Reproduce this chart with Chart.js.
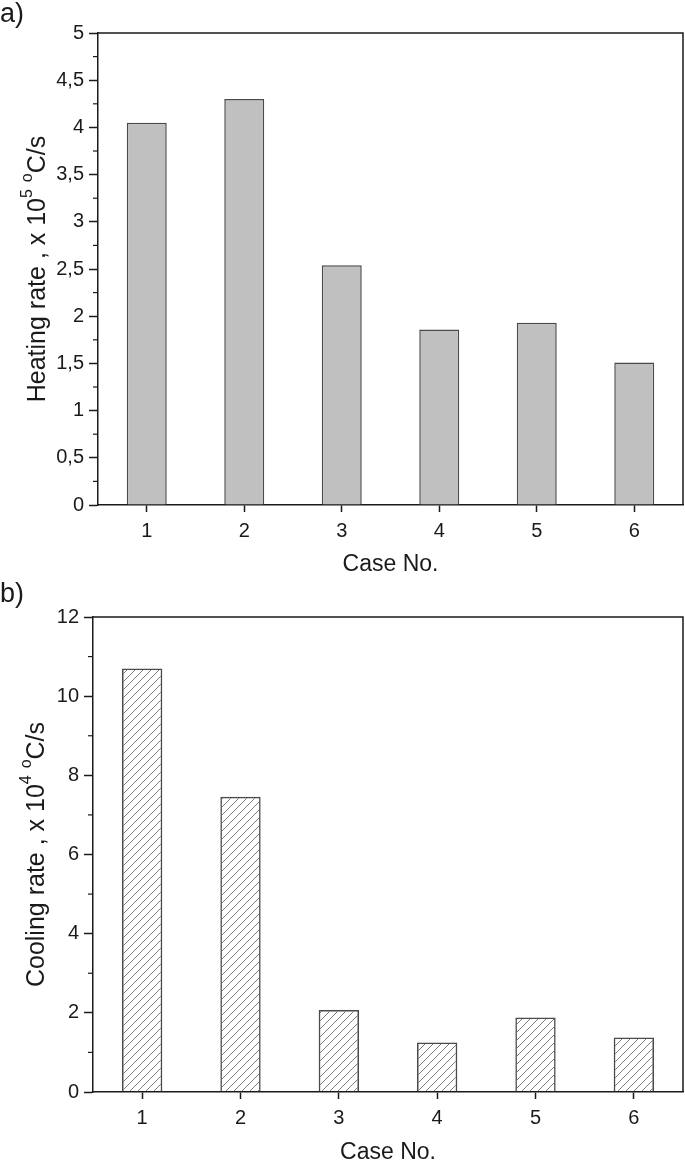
<!DOCTYPE html>
<html>
<head>
<meta charset="utf-8">
<script src="https://cdn.jsdelivr.net/npm/chart.js@4/dist/chart.umd.min.js"></script>
<style>
  html, body { margin: 0; padding: 0; background: #fff; }
  .panel { position: absolute; left: 0; width: 685px; height: 581px; }
</style>
</head>
<body>
<div class="panel" style="top:0"><canvas id="heat" width="685" height="581"></canvas></div>
<div class="panel" style="top:581px"><canvas id="cool" width="685" height="581"></canvas></div>
<script>
const cases = ["1", "2", "3", "4", "5", "6"];
const heatingRate = [4.05, 4.30, 2.54, 1.86, 1.93, 1.51];
const coolingRate = [10.7, 7.46, 2.07, 1.25, 1.88, 1.38];
const heatTicks = { max: 5, step: 0.5, minor: 0.25 };
const coolTicks = { max: 12, step: 2, minor: 1 };

const FONT = "'Liberation Sans', Arial, sans-serif";
const ink = "#1a1a1a";

// diagonal hatch for the cooling bars
function hatch() {
  const c = document.createElement("canvas");
  c.width = 8; c.height = 8;
  const g = c.getContext("2d");
  g.strokeStyle = "#707070";
  g.lineWidth = 0.9;
  g.beginPath();
  g.moveTo(0, 8); g.lineTo(8, 0);
  g.moveTo(-1, 1); g.lineTo(1, -1);
  g.moveTo(7, 9); g.lineTo(9, 7);
  g.stroke();
  return g.createPattern(c, "repeat");
}

// frame, minor ticks, titles and panel letter
const decor = {
  id: "decor",
  afterDraw(chart, args, o) {
    const ctx = chart.ctx;
    const a = chart.chartArea;
    const y = chart.scales.y;
    ctx.save();
    ctx.strokeStyle = ink;
    ctx.lineWidth = 1.5;
    ctx.beginPath();
    ctx.moveTo(a.left, a.top); ctx.lineTo(a.right, a.top); ctx.lineTo(a.right, a.bottom);
    ctx.stroke();

    ctx.lineWidth = 1.2;
    for (let v = o.minor; v < o.max; v += o.step) {
      const py = y.getPixelForValue(v);
      ctx.beginPath();
      ctx.moveTo(a.left - 5, py); ctx.lineTo(a.left, py);
      ctx.stroke();
    }

    ctx.fillStyle = ink;
    ctx.font = "27px " + FONT;
    ctx.textBaseline = "middle";
    ctx.textAlign = "left";
    ctx.fillText(o.letter, 0, o.letterY);

    ctx.font = "23px " + FONT;
    ctx.textAlign = "center";
    ctx.fillText("Case No.", (a.left + a.right) / 2, o.xTitleY);

    // rotated y title with superscripts
    const big = "25px " + FONT, small = "16px " + FONT;
    const parts = [
      [o.yTitle, big, 0], [o.power, small, -10], [" ", big, 0], ["o", small, -10], ["C/s", big, 0]
    ];
    let w = 0;
    parts.forEach(p => { ctx.font = p[1]; w += ctx.measureText(p[0]).width; });
    ctx.translate(o.yTitleX, (a.top + a.bottom) / 2);
    ctx.rotate(-Math.PI / 2);
    ctx.textAlign = "left";
    let x = -w / 2;
    parts.forEach(p => {
      ctx.font = p[1];
      ctx.fillText(p[0], x, p[2]);
      x += ctx.measureText(p[0]).width;
    });
    ctx.restore();
  }
};

function makeChart(id, values, fill, t, layout, extra) {
  return new Chart(document.getElementById(id), {
    type: "bar",
    data: {
      labels: cases,
      datasets: [{
        data: values,
        backgroundColor: fill,
        borderColor: "#4a4a4a",
        borderWidth: 1.5,
        borderSkipped: "bottom",
        categoryPercentage: 1,
        barPercentage: 0.41
      }]
    },
    options: {
      responsive: false,
      animation: false,
      layout: { padding: { top: layout.top, right: 2, left: 0, bottom: 0 } },
      plugins: { legend: { display: false }, tooltip: { enabled: false }, decor: extra },
      scales: {
        x: {
          offset: true,
          afterFit: s => { s.height = layout.xh; },
          grid: { drawOnChartArea: false, offset: false, tickLength: 7, tickColor: ink, tickWidth: 1.5 },
          border: { color: ink, width: 1.5 },
          ticks: { color: ink, font: { family: FONT, size: 20 }, padding: 7 }
        },
        y: {
          min: 0,
          max: t.max,
          afterFit: s => { s.width = layout.left; },
          grid: { drawOnChartArea: false, tickLength: 9, tickColor: ink, tickWidth: 1.5 },
          border: { color: ink, width: 1.5 },
          ticks: {
            stepSize: t.step,
            color: ink,
            padding: 5,
            font: { family: FONT, size: 20 },
            callback: v => String(v).replace(".", ",")
          }
        }
      }
    },
    plugins: [decor]
  });
}

makeChart("heat", heatingRate, "#c0c0c0", heatTicks,
  { top: 33, left: 98, xh: 76 },
  { max: heatTicks.max, step: heatTicks.step, minor: heatTicks.minor, letter: "a)", letterY: 15,
    xTitleY: 565, yTitle: "Heating rate , x 10", power: "5", yTitleX: 38 });

makeChart("cool", coolingRate, hatch(), coolTicks,
  { top: 36, left: 93, xh: 70 },
  { max: coolTicks.max, step: coolTicks.step, minor: coolTicks.minor, letter: "b)", letterY: 14,
    xTitleY: 572, yTitle: "Cooling rate , x 10", power: "4", yTitleX: 37 });
</script>
</body>
</html>
